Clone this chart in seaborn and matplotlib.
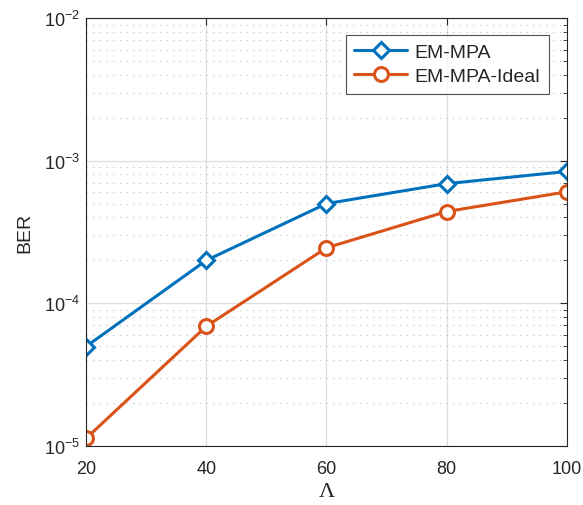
import numpy as np
import pandas as pd
import matplotlib
matplotlib.use("Agg")
import matplotlib.pyplot as plt
import seaborn as sns
from matplotlib.ticker import LogLocator, NullFormatter

# data
lam = [20, 40, 60, 80, 100]
ber_em_mpa = [4.98e-5, 2.0e-4, 5.0e-4, 6.9e-4, 8.4e-4]
ber_em_mpa_ideal = [1.13e-5, 6.9e-5, 2.45e-4, 4.4e-4, 6.05e-4]

blue = (0.0, 0.447, 0.741)
red = (0.85, 0.325, 0.098)

sns.set_style("white")
plt.rcParams["font.family"] = ["Liberation Sans", "DejaVu Sans"]

fig = plt.figure(figsize=(5.83, 5.06), dpi=100)
ax = fig.add_axes([0.1475, 0.1166, 0.825, 0.8459])

sns.lineplot(x=lam, y=ber_em_mpa, ax=ax, color=blue, linewidth=2.2,
             marker="D", markersize=8.5, markeredgewidth=2.2,
             markerfacecolor="white", markeredgecolor=blue, label="EM-MPA")
sns.lineplot(x=lam, y=ber_em_mpa_ideal, ax=ax, color=red, linewidth=2.2,
             marker="o", markersize=10, markeredgewidth=2.2,
             markerfacecolor="white", markeredgecolor=red, label="EM-MPA-Ideal")

ax.set_yscale("log")
ax.set_xlim(20, 100)
ax.set_ylim(1e-5, 1e-2)
ax.set_xticks([20, 40, 60, 80, 100])
ax.yaxis.set_major_locator(LogLocator(base=10, numticks=10))
ax.yaxis.set_minor_locator(LogLocator(base=10, subs=np.arange(2, 10), numticks=20))
ax.yaxis.set_minor_formatter(NullFormatter())

ax.grid(True, which="major", color="#dedede", linestyle="-", linewidth=0.9)
ax.grid(True, which="minor", axis="y", color="#bdbdbd", linestyle=(0, (1, 5)), linewidth=0.8)
ax.set_axisbelow(True)

for s in ax.spines.values():
    s.set_color("#262626")
    s.set_linewidth(0.8)
ax.tick_params(axis="both", which="both", direction="in", top=True, right=True,
               colors="#262626", labelsize=13)
ax.tick_params(axis="both", which="major", length=5)
ax.tick_params(axis="y", which="minor", length=3)
ax.tick_params(axis="x", pad=10)
ax.tick_params(axis="y", pad=4)

ax.set_xlabel("Λ", family=["Liberation Serif", "DejaVu Serif"], fontsize=16,
              color="#262626", labelpad=4)
ax.set_ylabel("BER", fontsize=14, color="#262626", labelpad=8)

leg = ax.legend(loc="upper right", bbox_to_anchor=(0.975, 0.975), fontsize=14,
                frameon=True, fancybox=False, edgecolor="#262626",
                handlelength=2.7, handletextpad=0.4, borderpad=0.45,
                labelspacing=0.35, borderaxespad=0.3)
leg.get_frame().set_linewidth(0.8)

fig.savefig("out.png", dpi=100)
